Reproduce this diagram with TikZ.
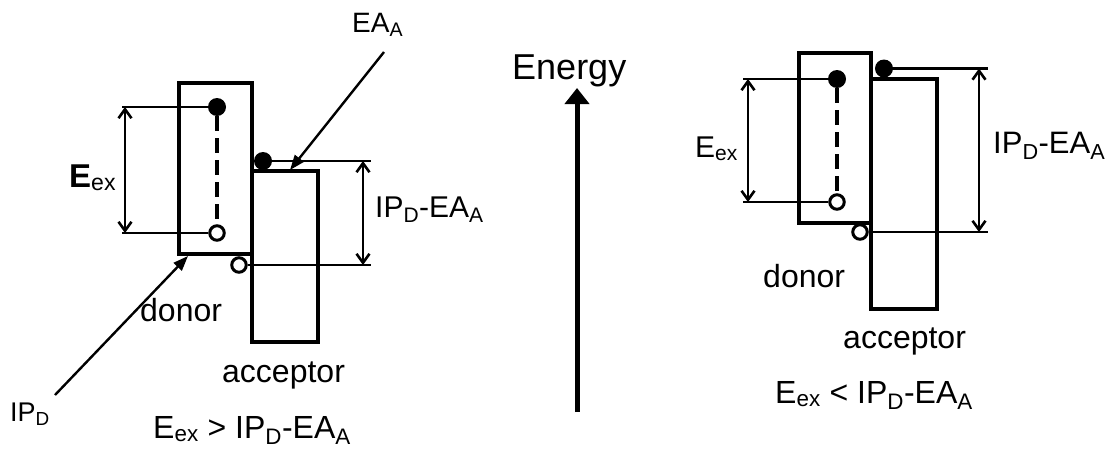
\documentclass[tikz,border=0pt]{standalone}
\usepackage{fontspec}
\setmainfont{Liberation Sans}
\usetikzlibrary{arrows.meta}
\newcommand\fs[1]{\fontsize{#1}{#1}\selectfont}
\newcommand\sbs[1]{\textsubscript{#1}}
\begin{document}
\begin{tikzpicture}[x=1pt,y=-1pt,
  band/.style={draw, line width=3.5pt, inner sep=0pt, outer sep=0pt},
  elec/.style={circle, fill, inner sep=0pt, minimum size=18pt},
  hole/.style={circle, draw, line width=3pt, fill=white, inner sep=0pt, minimum size=14.5pt},
  level/.style={line width=2.6pt},
  exdash/.style={line width=3.2pt, dash pattern=on 15pt off 7pt},
  dim/.style={line width=2.6pt, {Straight Barb[length=9pt,width=13pt,line width=2.6pt]}-{Straight Barb[length=9pt,width=13pt,line width=2.6pt]}},
  pointer/.style={line width=2.4pt, -{Triangle[length=15pt,width=11pt]}},
  lbl/.style={inner sep=0pt, anchor=base west, font=\fs{32}},
  energyarrow/.style={line width=5pt, -{Triangle[length=16pt,width=24pt]}}
]
\useasboundingbox (0,0) rectangle (1113,450);

% ---------------- left diagram ----------------
\node[band, minimum width=73pt, minimum height=171pt] (don1) at (215.5,168.5) {};
\node[band, minimum width=66pt, minimum height=171pt] (acc1) at (285,256.5) {};
\node[elec] (e1) at (217,107) {};
\node[hole] (h1) at (217,233) {};
\node[elec] (e2) at (263,161) {};
\node[hole] (h2) at (239,265) {};
\coordinate (l1) at (122,107);
\coordinate (l2) at (122,233);
\coordinate (l3) at (371,161);
\coordinate (l4) at (371,265);
\draw[level] (l1) -- (e1);
\draw[level] (l2) -- (h1);
\draw[level] (e2) -- (l3);
\draw[level] (h2) -- (l4);
\draw[exdash] (e1) -- (h1);
\coordinate (d1t) at (125,107);
\coordinate (d1b) at (125,233);
\draw[dim] (d1t) -- (d1b);
\coordinate (d2t) at (363,161);
\coordinate (d2b) at (363,265);
\draw[dim] (d2t) -- (d2b);

\node[lbl, font=\fs{33}] (eex1) at (69,187) {\textbf{E}\sbs{ex}};
\node[lbl, font=\fs{30}] (gap1) at (375,217) {IP\sbs{D}-EA\sbs{A}};
\node[lbl, font=\fs{28}] (eaa) at (352,32) {EA\sbs{A}};
\coordinate (eas) at (384,52);
\coordinate (eae) at (290,170);
\draw[pointer] (eas) -- (eae);
\node[lbl, font=\fs{27}] (ipd) at (10,421) {IP\sbs{D}};
\coordinate (ips) at (55,395);
\coordinate (ipe) at (188,256);
\draw[pointer] (ips) -- (ipe);
\node[lbl] (dlab1) at (140,321) {donor};
\node[lbl] (alab1) at (222,382) {acceptor};
\node[lbl] (cond1) at (153,438) {E\sbs{ex} \textgreater{} IP\sbs{D}-EA\sbs{A}};

% ---------------- energy axis ----------------
\node[lbl, font=\fs{36}] (energy) at (512,79) {Energy};
\coordinate (ax0) at (577,412);
\coordinate (ax1) at (577,88);
\draw[energyarrow] (ax0) -- (ax1);

% ---------------- right diagram ----------------
\node[band, minimum width=72pt, minimum height=170pt] (don2) at (835,138) {};
\node[band, minimum width=66pt, minimum height=230pt] (acc2) at (904,194) {};
\node[elec] (e3) at (837,79) {};
\node[hole] (h3) at (837,202) {};
\node[elec] (e4) at (884,68.5) {};
\node[hole] (h4) at (860,232) {};
\coordinate (r1) at (743,79);
\coordinate (r2) at (743,202);
\coordinate (r3) at (988,68.5);
\coordinate (r4) at (988,232);
\draw[level] (r1) -- (e3);
\draw[level] (r2) -- (h3);
\draw[level] (e4) -- (r3);
\draw[level] (h4) -- (r4);
\draw[exdash] (e3) -- (h3);
\coordinate (d3t) at (748,79);
\coordinate (d3b) at (748,202);
\draw[dim] (d3t) -- (d3b);
\coordinate (d4t) at (979,68.5);
\coordinate (d4b) at (979,232);
\draw[dim] (d4t) -- (d4b);

\node[lbl, font=\fs{30}] (eex2) at (695,157) {E\sbs{ex}};
\node[lbl, font=\fs{31}] (gap2) at (993,153) {IP\sbs{D}-EA\sbs{A}};
\node[lbl] (dlab2) at (763,287) {donor};
\node[lbl] (alab2) at (843,348) {acceptor};
\node[lbl] (cond2) at (775,403) {E\sbs{ex} \textless{} IP\sbs{D}-EA\sbs{A}};
\end{tikzpicture}
\end{document}
